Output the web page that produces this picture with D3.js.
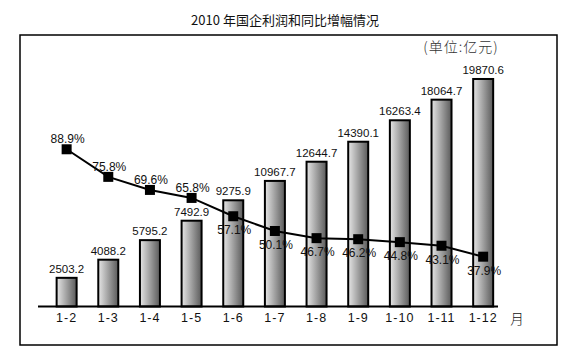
<!DOCTYPE html>
<html>
<head>
<meta charset="utf-8">
<script src="https://cdn.jsdelivr.net/npm/d3@7"></script>
<style>
  body { margin: 0; background: #fff; }
  text { font-family: "Liberation Sans", Arial, sans-serif; fill: #111; }
</style>
</head>
<body>
<svg class="main" width="570" height="352"></svg>
<script>
// данные
const months = ["1-2", "1-3", "1-4", "1-5", "1-6", "1-7", "1-8", "1-9", "1-10", "1-11", "1-12"];
const profit = [2503.2, 4088.2, 5795.2, 7492.9, 9275.9, 10967.7, 12644.7, 14390.1, 16263.4, 18064.7, 19870.6];
const growth = [88.9, 75.8, 69.6, 65.8, 57.1, 50.1, 46.7, 46.2, 44.8, 43.1, 37.9];
// где подпись процента: над точкой или под ней
const growthSide = ["up", "up", "up", "up", "down", "down", "down", "down", "down", "down", "down"];

const svg = d3.select("svg.main");
const baseY = 306.5;

const x = d3.scaleBand().domain(months).range([45.8, 504]).paddingInner(0.52).paddingOuter(0.26);
const yBar = d3.scaleLinear().domain([0, 20000]).range([baseY, 77.5]);
const yPct = d3.scaleLinear().domain([0, 100]).range([336.5, 125.9]);

const grad = svg.append("defs").append("linearGradient")
    .attr("id", "barGrad").attr("x1", "0%").attr("x2", "100%");
grad.append("stop").attr("offset", "0%").attr("stop-color", "#e6e6e6");
grad.append("stop").attr("offset", "100%").attr("stop-color", "#5a5a5a");

// рамка
svg.append("rect")
    .attr("x", 20).attr("y", 35).attr("width", 537).attr("height", 310)
    .attr("fill", "none").attr("stroke", "#000").attr("stroke-width", 1.5);

// заголовок
svg.append("text")
    .attr("x", 285).attr("y", 25)
    .attr("text-anchor", "middle")
    .style("font-family", "'Noto Sans CJK SC', sans-serif")
    .style("font-size", "13px")
    .text("2010 年国企利润和同比增幅情况");

svg.append("text")
    .attr("x", 461).attr("y", 52)
    .attr("text-anchor", "middle")
    .style("font-family", "'Noto Sans CJK SC', sans-serif")
    .style("font-size", "14px")
    .style("font-weight", 300)
    .style("letter-spacing", "1px")
    .style("fill", "#333")
    .text("(单位:亿元)");

// столбцы
svg.selectAll("rect.bar")
    .data(profit)
    .join("rect")
    .attr("class", "bar")
    .attr("x", (d, i) => x(months[i]))
    .attr("y", d => yBar(d))
    .attr("width", x.bandwidth())
    .attr("height", d => baseY - yBar(d))
    .attr("fill", "url(#barGrad)")
    .attr("stroke", "#000")
    .attr("stroke-width", 2);

svg.selectAll("text.val")
    .data(profit)
    .join("text")
    .attr("class", "val")
    .attr("x", (d, i) => x(months[i]) + x.bandwidth() / 2)
    .attr("y", d => yBar(d) - 5)
    .attr("text-anchor", "middle")
    .style("font-size", "11.5px")
    .text(d => d.toFixed(1));

// ось
const axis = svg.append("g")
    .attr("transform", `translate(0,${baseY})`)
    .call(d3.axisBottom(x).tickSize(0).tickPadding(7));
axis.select(".domain").remove();
axis.selectAll("text")
    .style("font-size", "12.5px")
    .style("letter-spacing", "1px")
    .style("font-family", "'Liberation Sans', Arial, sans-serif");
svg.append("line")
    .attr("x1", 38).attr("x2", 498)
    .attr("y1", baseY).attr("y2", baseY)
    .attr("stroke", "#000").attr("stroke-width", 2.2);

svg.append("text")
    .attr("x", 517).attr("y", 324)
    .attr("text-anchor", "middle")
    .style("font-family", "'Noto Sans CJK SC', sans-serif")
    .style("font-size", "13.5px")
    .style("font-weight", 300)
    .text("月");

// линия прироста
const line = d3.line()
    .x((d, i) => x(months[i]) + x.bandwidth() / 2)
    .y(d => yPct(d));

svg.append("path")
    .attr("d", line(growth))
    .attr("fill", "none")
    .attr("stroke", "#000")
    .attr("stroke-width", 2);

svg.selectAll("rect.mark")
    .data(growth)
    .join("rect")
    .attr("class", "mark")
    .attr("x", (d, i) => x(months[i]) + x.bandwidth() / 2 - 5)
    .attr("y", d => yPct(d) - 5)
    .attr("width", 10).attr("height", 10)
    .attr("fill", "#000");

svg.selectAll("text.pct")
    .data(growth)
    .join("text")
    .attr("class", "pct")
    .attr("x", (d, i) => x(months[i]) + x.bandwidth() / 2 + 1)
    .attr("y", (d, i) => yPct(d) + (growthSide[i] == "up" ? -6 : 18))
    .attr("text-anchor", "middle")
    .style("font-size", "12px")
    .text(d => d.toFixed(1) + "%");
</script>
</body>
</html>
